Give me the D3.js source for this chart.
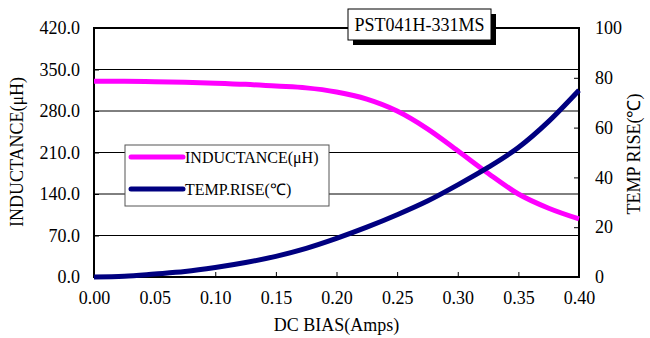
<!DOCTYPE html>
<html>
<head>
<meta charset="utf-8">
<script src="https://cdn.jsdelivr.net/npm/d3@7"></script>
<style>
    body { margin: 0; background: #fff; }
    svg { display: block; font-family: "Liberation Serif", "Times New Roman", serif; }
    .grid { stroke: #000; stroke-width: 1; }
    .tick line { stroke: #000; }
    .tick text { fill: #000; font-size: 18px; font-family: "Liberation Serif", "Times New Roman", serif; }
</style>
</head>
<body>
<div class="container"></div>
<script>
const WIDTH = 650;
const HEIGHT = 338;
const LEFT = 94;
const RIGHT = 579;
const TOP = 28;
const BOTTOM = 277;

// DC bias (A) and the two curves
var biasAmps = [0, 0.025, 0.05, 0.075, 0.1, 0.125, 0.15, 0.175, 0.2, 0.225, 0.25, 0.275, 0.3, 0.325, 0.35, 0.375, 0.4];
var inductance = [330, 330, 329.5, 328.5, 327, 325, 322, 319, 312, 300, 280, 250, 213, 175, 140, 116, 98];
var tempRise = [0, 0.3, 1.2, 2.2, 3.8, 5.8, 8.3, 11.5, 15.5, 20, 25, 30.5, 37, 44, 52, 62.5, 75];

var xTicks = [0, 0.05, 0.1, 0.15, 0.2, 0.25, 0.3, 0.35, 0.4];
var leftTicks = [0, 70, 140, 210, 280, 350, 420];
var rightTicks = [0, 20, 40, 60, 80, 100];

var seriesNames = ["INDUCTANCE(\u03bcH)", "TEMP.RISE(\u2103)"];
var seriesColors = ["#ff00ff", "#000080"];

var translate = function (x, y) {
    return "translate(" + x + "," + y + ")";
};

var drawChart = function () {
    var svg = d3.select('.container').append('svg')
        .attr('width', WIDTH)
        .attr('height', HEIGHT);

    var xScale = d3.scaleLinear().domain([0, 0.4]).range([LEFT, RIGHT]);
    var yLeft = d3.scaleLinear().domain([0, 420]).range([BOTTOM, TOP]);
    var yRight = d3.scaleLinear().domain([0, 100]).range([BOTTOM, TOP]);

    // horizontal grid from the left axis
    svg.selectAll('.grid')
        .data(leftTicks.slice(1, -1))
        .enter().append('line')
        .classed('grid', true)
        .attr('x1', LEFT).attr('x2', RIGHT)
        .attr('y1', function (d) { return yLeft(d); })
        .attr('y2', function (d) { return yLeft(d); });

    var xAxis = d3.axisBottom(xScale).tickValues(xTicks)
        .tickSize(-5).tickPadding(14).tickFormat(d3.format('.2f'));
    var leftAxis = d3.axisLeft(yLeft).tickValues(leftTicks)
        .tickSize(-5).tickPadding(14).tickFormat(d3.format('.1f'));
    var rightAxis = d3.axisRight(yRight).tickValues(rightTicks)
        .tickSize(-5).tickPadding(16).tickFormat(d3.format('d'));

    [svg.append('g').attr('transform', translate(0, BOTTOM)).call(xAxis),
     svg.append('g').attr('transform', translate(LEFT, 0)).call(leftAxis),
     svg.append('g').attr('transform', translate(RIGHT, 0)).call(rightAxis)]
        .forEach(function (g) {
            g.attr('font-family', null).attr('font-size', null);
            g.select('.domain').remove();
        });

    // plot frame
    svg.append('rect')
        .attr('x', LEFT).attr('y', TOP)
        .attr('width', RIGHT - LEFT).attr('height', BOTTOM - TOP)
        .attr('fill', 'none')
        .attr('stroke', '#000')
        .attr('stroke-width', 2);

    var indLine = d3.line()
        .x(function (d, i) { return xScale(biasAmps[i]); })
        .y(function (d) { return yLeft(d); })
        .curve(d3.curveMonotoneX);
    var tempLine = d3.line()
        .x(function (d, i) { return xScale(biasAmps[i]); })
        .y(function (d) { return yRight(d); })
        .curve(d3.curveMonotoneX);

    svg.append('path')
        .attr('d', indLine(inductance))
        .attr('fill', 'none')
        .attr('stroke', seriesColors[0])
        .attr('stroke-width', 5);
    svg.append('path')
        .attr('d', tempLine(tempRise))
        .attr('fill', 'none')
        .attr('stroke', seriesColors[1])
        .attr('stroke-width', 5);

    // axis titles
    svg.append('text')
        .attr('x', (LEFT + RIGHT) / 2).attr('y', 331)
        .attr('text-anchor', 'middle')
        .attr('font-size', 18)
        .text('DC BIAS(Amps)');
    svg.append('text')
        .attr('transform', translate(23, 152) + ' rotate(-90)')
        .attr('text-anchor', 'middle')
        .attr('font-size', 18)
        .text('INDUCTANCE(\u03bcH)');
    svg.append('text')
        .attr('transform', translate(640, 154) + ' rotate(-90)')
        .attr('text-anchor', 'middle')
        .attr('font-size', 18)
        .text('TEMP RISE(\u2103)');

    // legend
    var legend = svg.append('g').attr('transform', translate(125, 145));
    legend.append('rect')
        .attr('width', 204).attr('height', 61)
        .attr('fill', '#fff')
        .attr('stroke', '#555')
        .attr('stroke-width', 1);
    var items = legend.selectAll('.item')
        .data(seriesNames)
        .enter().append('g')
        .attr('transform', function (d, i) { return translate(0, 12 + i * 32); });
    items.append('line')
        .attr('x1', 6).attr('x2', 58)
        .attr('stroke', function (d, i) { return seriesColors[i]; })
        .attr('stroke-width', 5)
        .attr('stroke-linecap', 'round');
    items.append('text')
        .attr('x', 60).attr('y', 6)
        .attr('font-size', 16)
        .text(function (d) { return d; });

    // part number box with shadow
    var title = svg.append('g').attr('transform', translate(348, 9));
    title.append('rect')
        .attr('x', 5).attr('y', 5)
        .attr('width', 143).attr('height', 31)
        .attr('fill', '#000');
    title.append('rect')
        .attr('width', 143).attr('height', 31)
        .attr('fill', '#fff')
        .attr('stroke', '#000')
        .attr('stroke-width', 1);
    title.append('text')
        .attr('x', 71.5).attr('y', 22)
        .attr('text-anchor', 'middle')
        .attr('font-size', 18)
        .text('PST041H-331MS');
};

window.onload = function () {
    drawChart();
};
</script>
</body>
</html>
